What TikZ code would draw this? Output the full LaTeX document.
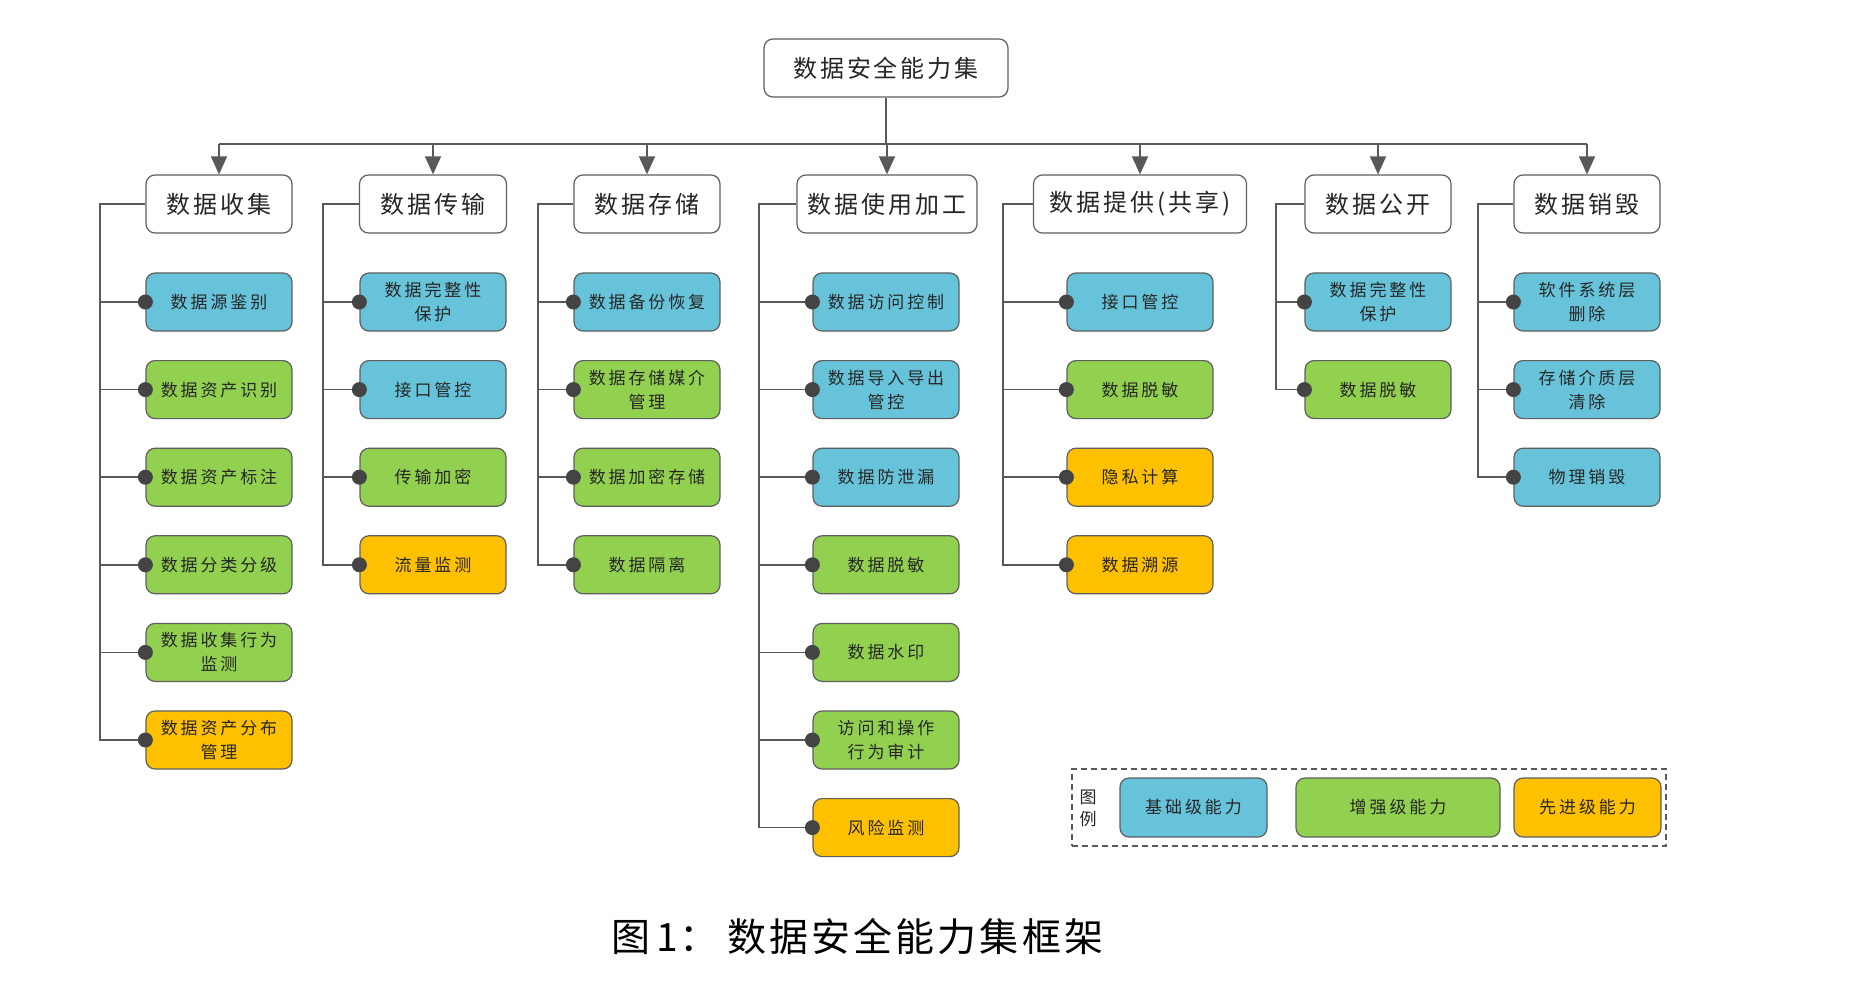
\documentclass[tikz,border=0pt]{standalone}
\usepackage{fontspec}
\setmainfont{Noto Sans CJK SC}
\newfontfamily\spcA[LetterSpace=12]{Noto Sans CJK SC}
\newfontfamily\spcB[LetterSpace=17]{Noto Sans CJK SC}
\newfontfamily\spcC[LetterSpace=8]{Noto Sans CJK SC}
\usetikzlibrary{arrows.meta}
\definecolor{cB}{HTML}{67C3D9}
\definecolor{cG}{HTML}{92D050}
\definecolor{cO}{HTML}{FFC000}
\definecolor{ln}{HTML}{595959}
\definecolor{bd}{HTML}{5F5F5F}
\definecolor{tx}{HTML}{262626}
\definecolor{dotc}{HTML}{444444}
\tikzset{
  box/.style={draw=bd, line width=1.2pt, rounded corners=9pt, text=tx, align=center, inner sep=0pt},
  topbox/.style={box, fill=white, minimum height=58pt, font=\fontsize{24}{28}\selectfont\spcA},
  subbox/.style={box, minimum width=146pt, minimum height=58pt, font=\fontsize{17}{24}\selectfont\spcB},
  conn/.style={draw=ln, line width=1.6pt},
  arr/.style={conn, -{Triangle[length=18pt,width=16pt]}},
  legbox/.style={box, minimum height=59pt, font=\fontsize{17}{20}\selectfont\spcB},
}
\begin{document}
\begin{tikzpicture}[x=1pt,y=-1pt]
\useasboundingbox[fill=white] (0,0) rectangle (1852,1000);
% root and level 1
\node[topbox, minimum width=244pt] (root) at (886,68) {数据安全能力集};
\coordinate (bus) at (0,144);
\node[topbox, minimum width=146pt] (c1) at (219,204) {数据收集};
\node[topbox, minimum width=147pt] (c2) at (433,204) {数据传输};
\node[topbox, minimum width=146pt] (c3) at (647,204) {数据存储};
\node[topbox, minimum width=180pt] (c4) at (887,204) {数据使用加工};
\node[topbox, minimum width=213pt] (c5) at (1140,204) {数据提供(共享)};
\node[topbox, minimum width=146pt] (c6) at (1378,204) {数据公开};
\node[topbox, minimum width=146pt] (c7) at (1587,204) {数据销毁};
\coordinate (b1) at (100,0);
\coordinate (b2) at (323,0);
\coordinate (b3) at (538,0);
\coordinate (b4) at (759,0);
\coordinate (b5) at (1003,0);
\coordinate (b6) at (1276,0);
\coordinate (b7) at (1478,0);
% column 1
\node[subbox, fill=cB] (s1-1) at (219,302) {数据源鉴别};
\node[subbox, fill=cG] (s1-2) at (219,389.6) {数据资产识别};
\node[subbox, fill=cG] (s1-3) at (219,477.2) {数据资产标注};
\node[subbox, fill=cG] (s1-4) at (219,564.8) {数据分类分级};
\node[subbox, fill=cG] (s1-5) at (219,652.4) {数据收集行为\\监测};
\node[subbox, fill=cO] (s1-6) at (219,740) {数据资产分布\\管理};
% column 2
\node[subbox, fill=cB] (s2-1) at (433,302) {数据完整性\\保护};
\node[subbox, fill=cB] (s2-2) at (433,389.6) {接口管控};
\node[subbox, fill=cG] (s2-3) at (433,477.2) {传输加密};
\node[subbox, fill=cO] (s2-4) at (433,564.8) {流量监测};
% column 3
\node[subbox, fill=cB] (s3-1) at (647,302) {数据备份恢复};
\node[subbox, fill=cG] (s3-2) at (647,389.6) {数据存储媒介\\管理};
\node[subbox, fill=cG] (s3-3) at (647,477.2) {数据加密存储};
\node[subbox, fill=cG] (s3-4) at (647,564.8) {数据隔离};
% column 4
\node[subbox, fill=cB] (s4-1) at (886,302) {数据访问控制};
\node[subbox, fill=cB] (s4-2) at (886,389.6) {数据导入导出\\管控};
\node[subbox, fill=cB] (s4-3) at (886,477.2) {数据防泄漏};
\node[subbox, fill=cG] (s4-4) at (886,564.8) {数据脱敏};
\node[subbox, fill=cG] (s4-5) at (886,652.4) {数据水印};
\node[subbox, fill=cG] (s4-6) at (886,740) {访问和操作\\行为审计};
\node[subbox, fill=cO] (s4-7) at (886,827.6) {风险监测};
% column 5
\node[subbox, fill=cB] (s5-1) at (1140,302) {接口管控};
\node[subbox, fill=cG] (s5-2) at (1140,389.6) {数据脱敏};
\node[subbox, fill=cO] (s5-3) at (1140,477.2) {隐私计算};
\node[subbox, fill=cO] (s5-4) at (1140,564.8) {数据溯源};
% column 6
\node[subbox, fill=cB] (s6-1) at (1378,302) {数据完整性\\保护};
\node[subbox, fill=cG] (s6-2) at (1378,389.6) {数据脱敏};
% column 7
\node[subbox, fill=cB] (s7-1) at (1587,302) {软件系统层\\删除};
\node[subbox, fill=cB] (s7-2) at (1587,389.6) {存储介质层\\清除};
\node[subbox, fill=cB] (s7-3) at (1587,477.2) {物理销毁};
% bus and arrows
\draw[conn] (root.south) -- (root.south |- bus);
\draw[conn] (c1.north |- bus) -- (c7.north |- bus);
\foreach \i in {1,...,7} \draw[arr] (c\i.north |- bus) -- (c\i.north);
% brackets
\foreach \i/\n in {1/6,2/4,3/4,4/7,5/4,6/2,7/3}{
  \draw[conn] (c\i.west) -| (b\i |- s\i-\n.west) -- (s\i-\n.west);
  \foreach \k in {1,...,\n}{
    \draw[conn] (b\i |- s\i-\k.west) -- (s\i-\k.west);
    \fill[dotc] (s\i-\k.west) circle (7.5pt);
  }
}
% legend
\node[draw=ln, dashed, dash pattern=on 6pt off 4pt, line width=1.2pt, minimum width=594pt, minimum height=77pt, inner sep=0pt] (lg) at (1369,807.5) {};
\node[font=\fontsize{17}{22}\selectfont, text=tx, align=center, inner sep=0pt] (lgt) at (1088,808) {图\\例};
\node[legbox, fill=cB, minimum width=147pt] (lb) at (1193.5,807.5) {基础级能力};
\node[legbox, fill=cG, minimum width=204pt] (lgr) at (1398,807.5) {增强级能力};
\node[legbox, fill=cO, minimum width=147pt] (lo) at (1587.5,807.5) {先进级能力};
% caption
\node[font=\fontsize{39}{44}\selectfont\spcC, text=black, inner sep=0pt, anchor=west] (cap) at (611,937) {图\hspace{6pt}1\hspace{2pt}：\hspace{8.4pt}数据安全能力集框架};
\end{tikzpicture}
\end{document}
